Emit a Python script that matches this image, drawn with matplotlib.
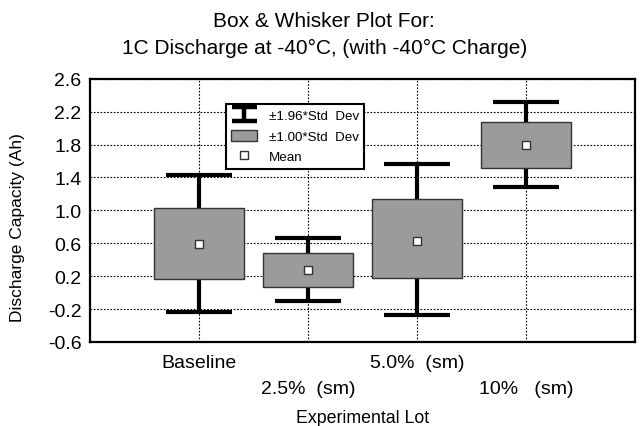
from __future__ import annotations

import matplotlib

matplotlib.use("Agg")
import matplotlib.pyplot as plt
import numpy as np
from matplotlib.lines import Line2D
from matplotlib.patches import Patch
from matplotlib.path import Path

plt.rcParams["font.family"] = ["Liberation Sans", "DejaVu Sans"]

lots = ["Baseline", "2.5%  (sm)", "5.0%  (sm)", "10%   (sm)"]
means = [0.59, 0.27, 0.63, 1.79]
box_low = [0.17, 0.07, 0.18, 1.52]
box_high = [1.03, 0.48, 1.14, 2.08]
whisker_low = [-0.24, -0.10, -0.27, 1.29]
whisker_high = [1.43, 0.66, 1.57, 2.32]
y_ticks = [-0.6, -0.2, 0.2, 0.6, 1.0, 1.4, 1.8, 2.2, 2.6]

BOX_GRAY = "#9b9b9b"


def _ibeam_marker() -> Path:
    verts = [(-1.0, 0.55), (1.0, 0.55), (0.0, 0.55), (0.0, -0.55), (-1.0, -0.55), (1.0, -0.55)]
    codes = [Path.MOVETO, Path.LINETO, Path.MOVETO, Path.LINETO, Path.MOVETO, Path.LINETO]
    return Path(verts, codes)


def _draw_boxes(ax, x: np.ndarray) -> None:
    mean = np.asarray(means)
    err = [mean - np.asarray(whisker_low), np.asarray(whisker_high) - mean]
    ax.errorbar(x, mean, yerr=err, fmt="none", ecolor="black", elinewidth=3.0,
                capsize=24, capthick=3.0, zorder=2)
    heights = np.asarray(box_high) - np.asarray(box_low)
    ax.bar(x, heights, bottom=box_low, width=0.82, color=BOX_GRAY,
           edgecolor="#333333", linewidth=1.0, zorder=3)
    ax.plot(x, mean, linestyle="none", marker="s", markersize=6,
            markerfacecolor="white", markeredgecolor="#333333", markeredgewidth=1.0, zorder=4)


def _add_legend(ax) -> None:
    handles = [
        Line2D([], [], linestyle="none", marker=_ibeam_marker(), markersize=18,
               markeredgecolor="black", markeredgewidth=3.2),
        Patch(facecolor=BOX_GRAY, edgecolor="#333333", linewidth=1.0),
        Line2D([], [], linestyle="none", marker="s", markersize=6,
               markerfacecolor="white", markeredgecolor="#333333", markeredgewidth=1.0),
    ]
    labels = ["±1.96*Std  Dev", "±1.00*Std  Dev", "Mean"]
    leg = ax.legend(handles, labels, loc="upper left", bbox_to_anchor=(0.25, 0.905),
                    fontsize=9.6, frameon=True, fancybox=False, framealpha=1.0,
                    edgecolor="black", borderpad=0.4, labelspacing=0.55,
                    handlelength=1.9, handleheight=0.9, handletextpad=0.9,
                    borderaxespad=0.0)
    leg.get_frame().set_linewidth(1.5)


def main() -> None:
    fig = plt.figure(figsize=(6.42, 4.27), dpi=100)
    ax = fig.add_axes((0.140, 0.197, 0.849, 0.616))
    x = np.arange(1, len(lots) + 1)

    _draw_boxes(ax, x)
    _add_legend(ax)

    ax.set_xlim(0, len(lots) + 1)
    ax.set_ylim(y_ticks[0], y_ticks[-1])
    ax.set_yticks(y_ticks)
    ax.set_yticklabels([f"{v:.1f}" for v in y_ticks])
    ax.set_xticks(x)
    staggered = [lab if i % 2 == 0 else "\n" + lab for i, lab in enumerate(lots)]
    ax.set_xticklabels(staggered)
    for label in ax.get_xticklabels():
        label.set_linespacing(1.65)
    ax.tick_params(axis="y", length=0, labelsize=14, pad=6)
    ax.tick_params(axis="x", length=0, labelsize=14, pad=9)
    ax.grid(True, linestyle=(0, (1.5, 1.5)), linewidth=0.8, color="black", zorder=0)
    ax.set_axisbelow(True)
    for spine in ax.spines.values():
        spine.set_linewidth(1.6)

    ax.set_ylabel("Discharge Capacity (Ah)", fontsize=12.5)
    ax.yaxis.set_label_coords(-0.119, 0.44)
    ax.set_xlabel("Experimental Lot", fontsize=12.8, labelpad=9)

    fig.text(0.505, 0.950, "Box & Whisker Plot For:", ha="center", va="center", fontsize=15)
    fig.text(0.505, 0.886, "1C Discharge at -40°C, (with -40°C Charge)", ha="center", va="center", fontsize=15)

    fig.savefig("out.png", dpi=100)
    plt.close(fig)


if __name__ == "__main__":
    main()
